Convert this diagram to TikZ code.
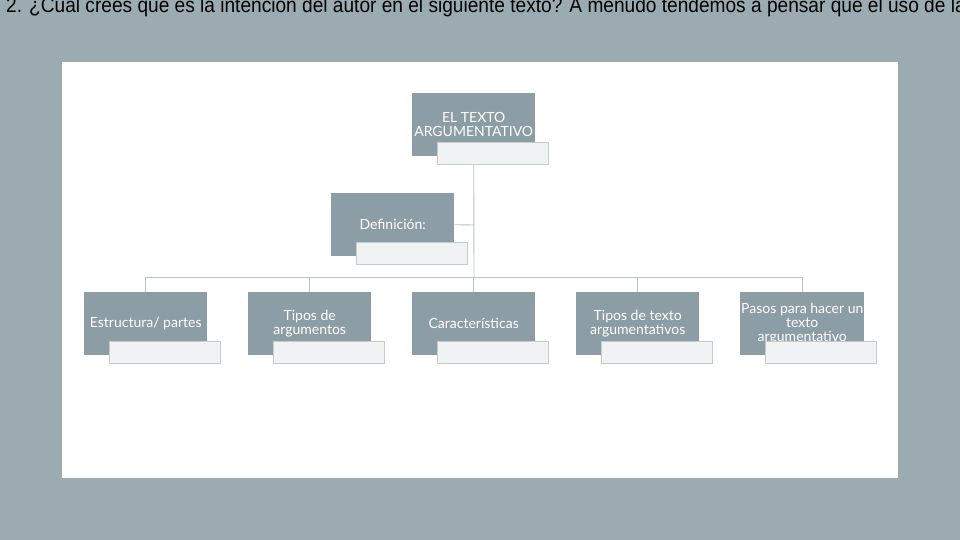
\documentclass[tikz,border=0pt]{standalone}
\usepackage{fontspec}
\setmainfont{Lato}
\newfontfamily\arialf{Liberation Sans}
\definecolor{bg}{HTML}{9BABB1}
\definecolor{boxc}{HTML}{8D9DA5}
\definecolor{subc}{HTML}{F1F2F3}
\definecolor{subd}{HTML}{C5CCD0}
\definecolor{linec}{HTML}{B9C3C8}
\begin{document}
\begin{tikzpicture}[x=1pt,y=-1pt,
  mbox/.style={fill=boxc,draw=none,minimum width=123pt,minimum height=63pt,text=white,font=\fontsize{14}{14}\selectfont,align=center,inner sep=1pt,anchor=north west},
  sbox/.style={fill=subc,draw=subd,line width=0.6pt,minimum width=111pt,minimum height=22pt,anchor=north west},
  conn/.style={draw=linec,line width=0.9pt}]
\useasboundingbox (0,0) rectangle (960,540);
\clip (0,0) rectangle (960,540);
\fill[bg] (0,0) rectangle (960,540);
\node[anchor=base west,inner sep=0,text=black,font=\arialf\fontsize{21}{21}\selectfont,xscale=0.91] (title) at (6,13) {2. ¿Cuál crees que es la intención del autor en el siguiente texto? A menudo tendemos a pensar que el uso de la red va};
\fill[white] (62,62) rectangle (898,478);
\coordinate (j1) at (474,225);
\coordinate (hL) at (146,277);
\coordinate (hR) at (802,277);
\coordinate (hC) at (474,277);
\node[mbox] (top) at (412,93) {EL TEXTO\\ARGUMENTATIVO};
\node[mbox] (def) at (331,193) {Definición:};
\foreach \n/\x/\t in {b1/84/{Estructura/ partes},b2/248/{Tipos de\\argumentos},b3/412/{Características},b4/576/{Tipos de texto\\argumentativos},b5/740/{Pasos para hacer un\\texto\\argumentativo}}{
  \node[mbox] (\n) at (\x,292) {\t};
}
\draw[conn] (top.south) -- (hC);
\draw[conn] (def.east) -- (j1);
\draw[conn] (hL) -- (hR);
\foreach \n in {b1,b2,b3,b4,b5}{\draw[conn] (\n.north |- hL) -- (\n.north);}
\node[sbox] (stop) at (437,142) {};
\node[sbox] (sdef) at (356,242) {};
\foreach \n/\x in {s1/109,s2/273,s3/437,s4/601,s5/765}{\node[sbox] (\n) at (\x,341) {};}
\end{tikzpicture}
\end{document}
